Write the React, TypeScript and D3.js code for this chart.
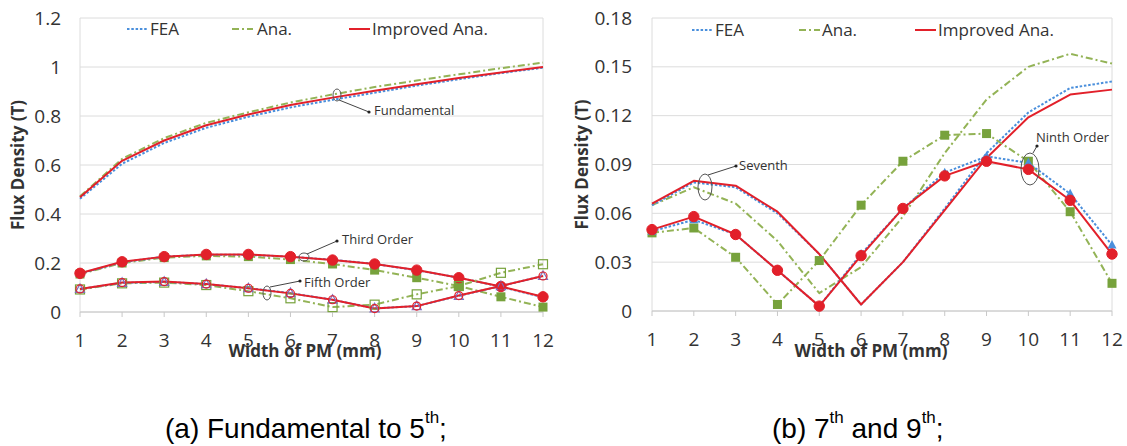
import React from "react";
import * as d3 from "d3";

// ---------- data ----------
const categories = [1, 2, 3, 4, 5, 6, 7, 8, 9, 10, 11, 12];

// (a) Fundamental to 5th
const fundFEA = [0.462, 0.605, 0.69, 0.752, 0.797, 0.835, 0.866, 0.895, 0.924, 0.95, 0.975, 0.997];
const fundAna = [0.472, 0.625, 0.71, 0.772, 0.815, 0.855, 0.888, 0.918, 0.945, 0.97, 0.995, 1.018];
const fundImp = [0.468, 0.617, 0.7, 0.762, 0.806, 0.845, 0.875, 0.903, 0.93, 0.955, 0.978, 1.0];

const thirdFEA = [0.157, 0.203, 0.226, 0.234, 0.233, 0.226, 0.213, 0.196, 0.17, 0.14, 0.103, 0.06];
const thirdAna = [0.155, 0.2, 0.222, 0.229, 0.226, 0.214, 0.196, 0.171, 0.14, 0.106, 0.062, 0.02];
const thirdImp = [0.158, 0.205, 0.226, 0.235, 0.235, 0.226, 0.212, 0.196, 0.171, 0.14, 0.104, 0.062];

const fifthFEA = [0.094, 0.119, 0.123, 0.114, 0.097, 0.077, 0.05, 0.015, 0.024, 0.066, 0.106, 0.147];
const fifthAna = [0.092, 0.117, 0.12, 0.11, 0.085, 0.056, 0.02, 0.03, 0.072, 0.106, 0.16, 0.195];
const fifthImp = [0.094, 0.12, 0.124, 0.114, 0.097, 0.076, 0.05, 0.014, 0.024, 0.067, 0.106, 0.147];

// (b) 7th and 9th
const sevFEA = [0.065, 0.079, 0.076, 0.06, 0.035, 0.004, 0.03, 0.063, 0.097, 0.122, 0.137, 0.141];
const sevAna = [0.065, 0.076, 0.066, 0.043, 0.011, 0.027, 0.058, 0.097, 0.13, 0.15, 0.158, 0.152];
const sevImp = [0.066, 0.08, 0.077, 0.061, 0.035, 0.004, 0.03, 0.062, 0.094, 0.119, 0.133, 0.136];

const ninFEA = [0.049, 0.056, 0.047, 0.025, 0.003, 0.035, 0.063, 0.085, 0.095, 0.091, 0.072, 0.0405];
const ninAna = [0.048, 0.051, 0.033, 0.004, 0.031, 0.065, 0.092, 0.108, 0.109, 0.092, 0.061, 0.017];
const ninImp = [0.05, 0.058, 0.047, 0.025, 0.003, 0.034, 0.063, 0.083, 0.092, 0.087, 0.068, 0.035];

const leftYTicks = [0, 0.2, 0.4, 0.6, 0.8, 1, 1.2];
const leftYLabels = ["0", "0.2", "0.4", "0.6", "0.8", "1", "1.2"];
const rightYTicks = [0, 0.03, 0.06, 0.09, 0.12, 0.15, 0.18];
const rightYLabels = ["0", "0.03", "0.06", "0.09", "0.12", "0.15", "0.18"];

const legendNames = ["FEA", "Ana.", "Improved Ana."];

// ---------- styles ----------
const C = {
  fea: "#4a8fdc",
  ana: "#93b356",
  anaMark: "#77a23c",
  imp: "#e2202a",
  grid: "#dcdcdc",
  text: "#333333",
};
const FONT = "'Open Sans', 'Liberation Sans', sans-serif";

type Kind = "fea" | "ana" | "imp";
type Marker = "none" | "circle" | "square" | "triangle" | "ocircle" | "osquare" | "otriangle";
interface Series { values: number[]; kind: Kind; marker: Marker }

const lineStyle = (k: Kind) =>
  k === "fea"
    ? { stroke: C.fea, strokeWidth: 2, strokeDasharray: "2.5,1.8" }
    : k === "ana"
    ? { stroke: C.ana, strokeWidth: 2, strokeDasharray: "7,3,2,3" }
    : { stroke: C.imp, strokeWidth: 2 };

function MarkerShape({ m, x, y, k }: { m: Marker; x: number; y: number; k: Kind }) {
  const col = k === "fea" ? C.fea : k === "ana" ? C.anaMark : C.imp;
  if (m === "circle") return <circle cx={x} cy={y} r={5.2} fill={col} stroke={col} />;
  if (m === "ocircle") return <circle cx={x} cy={y} r={4} fill="none" stroke={col} strokeWidth={1.2} />;
  if (m === "square") return <rect x={x - 4.5} y={y - 4.5} width={9} height={9} fill={col} />;
  if (m === "osquare") return <rect x={x - 4.5} y={y - 4.5} width={9} height={9} fill="none" stroke={col} strokeWidth={1.2} />;
  if (m === "triangle")
    return <path d={`M${x},${y - 5}L${x + 4.5},${y + 3.5}L${x - 4.5},${y + 3.5}Z`} fill={col} />;
  if (m === "otriangle")
    return <path d={`M${x},${y - 5}L${x + 4.5},${y + 3.5}L${x - 4.5},${y + 3.5}Z`} fill="none" stroke="#7b6fc0" strokeWidth={1.2} />;
  return null;
}

interface Ann { ex: number; ey: number; rx: number; ry: number; lx1: number; ly1: number; lx2: number; ly2: number; tx: number; ty: number; text: string }

interface PanelProps {
  x0: number; x1: number; yTop: number; yBot: number; yMax: number;
  yTicks: number[]; yLabels: string[]; yLabelX: number; yTitleX: number;
  xTitleX: number; series: Series[];
  legend: { lx: number; tx: number }[]; legendY: number;
  anns: Ann[];
}

function Panel(p: PanelProps) {
  const x = d3.scalePoint<number>().domain(categories).range([p.x0, p.x1]);
  const y = d3.scaleLinear().domain([0, p.yMax]).range([p.yBot, p.yTop]);
  const line = d3.line<number>().x((_, i) => x(categories[i])!).y((v) => y(v));
  const kinds: Kind[] = ["fea", "ana", "imp"];
  return (
    <g>
      {p.yTicks.map((t, i) => (
        <g key={i}>
          <line x1={p.x0} x2={p.x1} y1={y(t)} y2={y(t)} stroke={C.grid} strokeWidth={1} />
          <text x={p.yLabelX} y={y(t) + 6.5} textAnchor="end" fontSize={19} fill={C.text} fontFamily={FONT}>
            {p.yLabels[i]}
          </text>
        </g>
      ))}
      <line x1={p.x0} x2={p.x0} y1={p.yTop} y2={p.yBot} stroke={C.grid} />
      <line x1={p.x1} x2={p.x1} y1={p.yTop} y2={p.yBot} stroke={C.grid} />
      <line x1={p.x0} x2={p.x1} y1={p.yBot} y2={p.yBot} stroke="#c8c8c8" />
      {categories.map((c) => (
        <g key={c}>
          <line x1={x(c)} x2={x(c)} y1={p.yBot} y2={p.yBot + 5} stroke="#c8c8c8" />
          <text x={x(c)} y={p.yBot + 35} textAnchor="middle" fontSize={19} fill={C.text} fontFamily={FONT}>
            {c}
          </text>
        </g>
      ))}
      {/* series lines */}
      {p.series.map((s, i) => (
        <path key={i} d={line(s.values)!} fill="none" {...lineStyle(s.kind)} strokeLinejoin="round" />
      ))}
      {p.series.map((s, i) =>
        s.marker === "none" ? null : (
          <g key={"m" + i}>
            {s.values.map((v, j) => (
              <MarkerShape key={j} m={s.marker} x={x(categories[j])!} y={y(v)} k={s.kind} />
            ))}
          </g>
        )
      )}
      {/* legend */}
      {p.legend.map((l, i) => (
        <g key={"l" + i}>
          <line x1={l.lx} x2={l.lx + 21} y1={p.legendY} y2={p.legendY} {...lineStyle(kinds[i])} />
          <text x={l.tx} y={p.legendY + 6} fontSize={17} fill={C.text} fontFamily={FONT}>
            {legendNames[i]}
          </text>
        </g>
      ))}
      {/* annotations */}
      {p.anns.map((a, i) => (
        <g key={"a" + i}>
          <ellipse cx={a.ex} cy={a.ey} rx={a.rx} ry={a.ry} fill="none" stroke="#555" strokeWidth={1} />
          <line x1={a.lx1} y1={a.ly1} x2={a.lx2} y2={a.ly2} stroke="#444" strokeWidth={1} />
          <circle cx={a.lx2} cy={a.ly2} r={1.6} fill="#222" />
          <text x={a.tx} y={a.ty} fontSize={13} fill={C.text} fontFamily={FONT}>
            {a.text}
          </text>
        </g>
      ))}
      {/* axis titles */}
      <text
        transform={`translate(${p.yTitleX},${(p.yTop + p.yBot) / 2}) rotate(-90)`}
        textAnchor="middle"
        fontSize={17}
        fontWeight="bold"
        fill={C.text}
        fontFamily={FONT}
      >
        Flux Density (T)
      </text>
      <text x={p.xTitleX} y={357} textAnchor="middle" fontSize={17} fontWeight="bold" fill={C.text} fontFamily={FONT}>
        Width of PM (mm)
      </text>
    </g>
  );
}

export default function App() {
  const leftSeries: Series[] = [
    { values: fundAna, kind: "ana", marker: "none" },
    { values: fundFEA, kind: "fea", marker: "none" },
    { values: fundImp, kind: "imp", marker: "none" },
    { values: thirdAna, kind: "ana", marker: "square" },
    { values: thirdFEA, kind: "fea", marker: "triangle" },
    { values: thirdImp, kind: "imp", marker: "circle" },
    { values: fifthAna, kind: "ana", marker: "osquare" },
    { values: fifthFEA, kind: "fea", marker: "otriangle" },
    { values: fifthImp, kind: "imp", marker: "ocircle" },
  ];
  const rightSeries: Series[] = [
    { values: sevAna, kind: "ana", marker: "none" },
    { values: sevFEA, kind: "fea", marker: "none" },
    { values: sevImp, kind: "imp", marker: "none" },
    { values: ninAna, kind: "ana", marker: "square" },
    { values: ninFEA, kind: "fea", marker: "triangle" },
    { values: ninImp, kind: "imp", marker: "circle" },
  ];
  return (
    <svg
      width={1127}
      height={446}
      style={{ position: "absolute", left: 0, top: 0, background: "#fff" }}
    >
      <rect width={1127} height={446} fill="#fff" />
      <Panel
        x0={80} x1={543} yTop={18} yBot={312} yMax={1.2}
        yTicks={leftYTicks} yLabels={leftYLabels} yLabelX={61} yTitleX={24}
        xTitleX={305} series={leftSeries}
        legend={[{ lx: 127, tx: 150 }, { lx: 232, tx: 257 }, { lx: 349, tx: 372 }]} legendY={29}
        anns={[
          { ex: 337, ey: 95, rx: 4, ry: 6, lx1: 339, ly1: 100, lx2: 369, ly2: 112, tx: 374, ty: 115, text: "Fundamental" },
          { ex: 304, ey: 257, rx: 5, ry: 4, lx1: 307, ly1: 254, lx2: 337, ly2: 241, tx: 342, ty: 244, text: "Third Order" },
          { ex: 267, ey: 293, rx: 4, ry: 7, lx1: 270, ly1: 287, lx2: 300, ly2: 281, tx: 304, ty: 287, text: "Fifth Order" },
        ]}
      />
      <Panel
        x0={652} x1={1112} yTop={18} yBot={311} yMax={0.18}
        yTicks={rightYTicks} yLabels={rightYLabels} yLabelX={632} yTitleX={588}
        xTitleX={871} series={rightSeries}
        legend={[{ lx: 692, tx: 715 }, { lx: 799, tx: 822 }, { lx: 915, tx: 938 }]} legendY={30}
        anns={[
          { ex: 705, ey: 187, rx: 7, ry: 13, lx1: 708, ly1: 175, lx2: 736, ly2: 166, tx: 739, ty: 170, text: "Seventh" },
          { ex: 1030, ey: 169, rx: 9, ry: 16, lx1: 1033, ly1: 153, lx2: 1037, ly2: 146, tx: 1036, ty: 142, text: "Ninth Order" },
        ]}
      />
      <text x={165} y={438} fontSize={28} fill="#000" fontFamily="'Liberation Sans', Arial, sans-serif">
        (a) Fundamental to 5<tspan fontSize={17} dy={-15}>th</tspan>
        <tspan dy={15}>;</tspan>
      </text>
      <text x={772} y={438} fontSize={28} fill="#000" fontFamily="'Liberation Sans', Arial, sans-serif">
        (b) 7<tspan fontSize={17} dy={-15}>th</tspan>
        <tspan dy={15}> and 9</tspan>
        <tspan fontSize={17} dy={-15}>th</tspan>
        <tspan dy={15}>;</tspan>
      </text>
    </svg>
  );
}
